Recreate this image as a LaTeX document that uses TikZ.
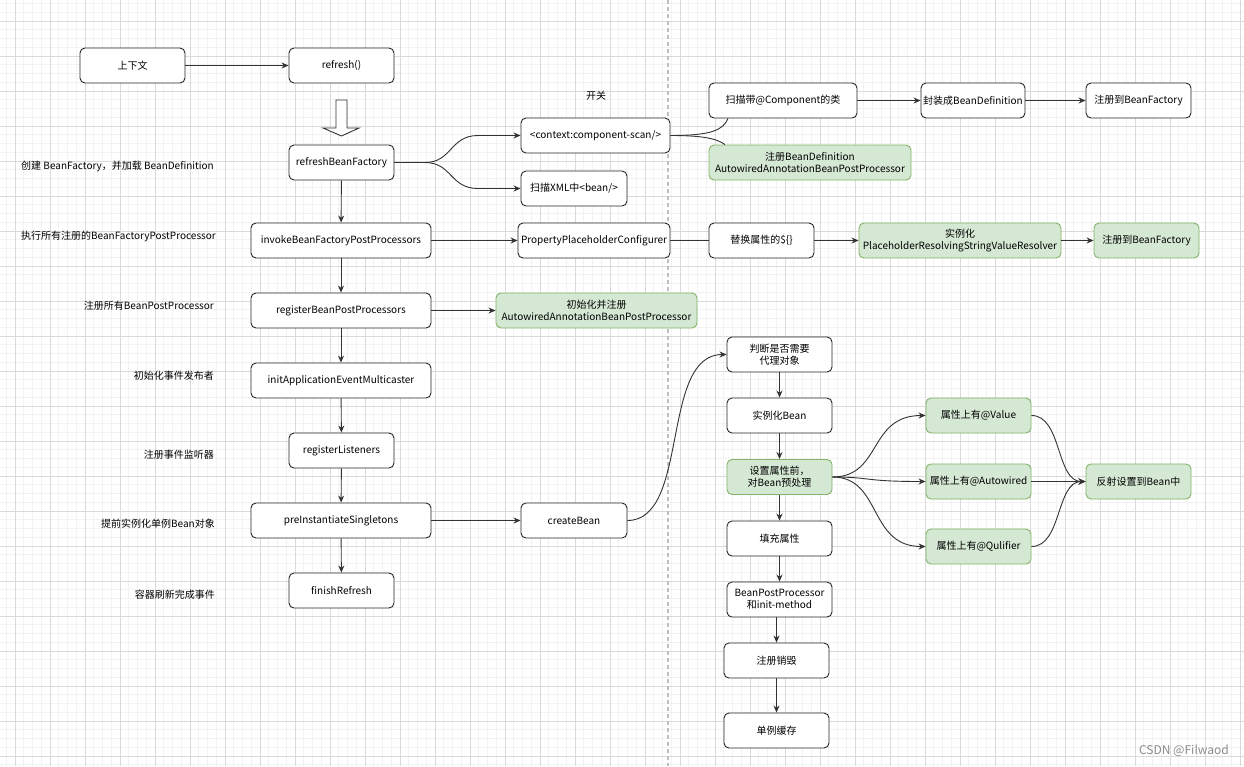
\documentclass[tikz,border=0pt]{standalone}
\usepackage{fontspec}
\setmainfont{Noto Sans CJK SC}
\usetikzlibrary{arrows.meta}
\definecolor{gfill}{HTML}{D5E8D4}
\definecolor{gdraw}{HTML}{82B366}
\definecolor{minorc}{HTML}{F2F2F2}
\definecolor{majorc}{HTML}{DADADA}
\begin{document}
\begin{tikzpicture}[x=1pt,y=-1pt,
  font=\fontsize{10}{12}\selectfont,
  box/.style={draw=black!85, line width=0.9pt, rounded corners=5pt, fill=white,
    minimum height=35pt, minimum width=#1, inner sep=1pt, align=center},
  box/.default=105pt,
  gbox/.style={box=#1, draw=gdraw, fill=gfill},
  gbox/.default=105pt,
  lbl/.style={anchor=east, inner sep=0pt},
  conn/.style={draw=black!80, line width=0.9pt, -{Stealth[length=7pt,width=6pt]}},
  plain/.style={draw=black!80, line width=0.9pt},
  minorgrid/.style={draw=minorc, line width=0.8pt},
  majorgrid/.style={draw=majorc, line width=0.8pt}]
\useasboundingbox (0,0) rectangle (1244,766);
\fill[white] (0,0) rectangle (1244,766);
% grid
\foreach \i in {0,...,141} {\draw[minorgrid] ({6.25+8.75*\i},0) -- ({6.25+8.75*\i},766);}
\foreach \j in {0,...,87} {\draw[minorgrid] (0,{3.5+8.75*\j}) -- (1244,{3.5+8.75*\j});}
\foreach \i in {0,...,35} {\draw[majorgrid] ({15+35*\i},0) -- ({15+35*\i},766);}
\foreach \j in {0,...,21} {\draw[majorgrid] (0,{21+35*\j}) -- (1244,{21+35*\j});}
% dashed separator
\draw[draw=black!25, line width=1.3pt, dash pattern=on 4pt off 3pt] (668,0) -- (668,766);

% left labels
\node[lbl] (l1) at (214,166) {创建 BeanFactory，并加载 BeanDefinition};
\node[lbl] (l2) at (216,236) {执行所有注册的BeanFactoryPostProcessor};
\node[lbl] (l3) at (214,306) {注册所有BeanPostProcessor};
\node[lbl] (l4) at (214,376) {初始化事件发布者};
\node[lbl] (l5) at (214,455) {注册事件监听器};
\node[lbl] (l6) at (215,524) {提前实例化单例Bean对象};
\node[lbl] (l7) at (215,595) {容器刷新完成事件};

% main column
\node[box] (ctx) at (132.5,65.5) {上下文};
\node[box] (refresh) at (341.5,65.5) {refresh()};
\node[box] (rbf) at (341.5,162.5) {refreshBeanFactory};
\node[box=180pt] (ibfpp) at (341,240.5) {invokeBeanFactoryPostProcessors};
\node[box=180pt] (rbpp) at (341,310.5) {registerBeanPostProcessors};
\node[box=180pt] (iaem) at (341,380.5) {initApplicationEventMulticaster};
\node[box] (rl) at (341.5,450.5) {registerListeners};
\node[box=180pt] (pis) at (341,520.5) {preInstantiateSingletons};
\node[box] (fr) at (341.5,590.5) {finishRefresh};

% hollow arrow
\draw[draw=black!80, line width=0.9pt, fill=white] (336,100) -- (347,100) -- (347,128) -- (359,128) -- (341.5,136) -- (323,128) -- (336,128) -- cycle;

% middle column
\node[inner sep=0pt] (kg) at (596,96) {开关};
\node[box=149pt] (cs) at (595.5,135.5) {<context:component-scan/>};
\node[box=106pt] (xml) at (574,188.5) {扫描XML中<bean/>};
\node[box=152pt] (ppc) at (594,240.5) {PropertyPlaceholderConfigurer};
\node[gbox=201pt] (aabpp) at (596.5,310.5) {初始化并注册\\AutowiredAnnotationBeanPostProcessor};
\node[box=106pt] (cb) at (574,520.5) {createBean};

% right top
\node[box=148pt] (scan) at (783,100.5) {扫描带@Component的类};
\node[box=104pt] (pack) at (973,100.5) {封装成BeanDefinition};
\node[box] (reg1) at (1138.5,100.5) {注册到BeanFactory};
\node[gbox=202pt] (regbd) at (810,162.5) {注册BeanDefinition\\AutowiredAnnotationBeanPostProcessor};
\node[box] (repl) at (761.5,240.5) {替换属性的\$\{\}};
\node[gbox=202pt] (inst) at (960,240.5) {实例化\\PlaceholderResolvingStringValueResolver};
\node[gbox] (reg2) at (1146.5,240.5) {注册到BeanFactory};

% right lower column
\node[box] (judge) at (779.5,354.5) {判断是否需要\\代理对象};
\node[box] (ib) at (779.5,415.5) {实例化Bean};
\node[gbox] (pre) at (779.5,477) {设置属性前，\\对Bean预处理};
\node[box] (fillp) at (779.5,538.5) {填充属性};
\node[box] (bpp) at (779.5,599.5) {BeanPostProcessor\\和init-method};
\node[box] (destroy) at (776.5,660.5) {注册销毁};
\node[box] (cache) at (776.5,730.5) {单例缓存};

\node[gbox] (val) at (978.5,415.5) {属性上有@Value};
\node[gbox] (aut) at (978.5,481.5) {属性上有@Autowired};
\node[gbox] (qul) at (978.5,546.5) {属性上有@Qulifier};
\node[gbox] (refl) at (1138.5,481.5) {反射设置到Bean中};

\node[text=black!45, font=\fontsize{12}{14}\selectfont, inner sep=0pt] (wm) at (1184,751) {CSDN @Filwaod};

% connectors
\draw[conn] (ctx) -- (refresh);
\draw[conn] (rbf) -- (ibfpp);
\draw[conn] (ibfpp) -- (rbpp);
\draw[conn] (rbpp) -- (iaem);
\draw[conn] (iaem) -- (rl);
\draw[conn] (rl) -- (pis);
\draw[conn] (pis) -- (fr);

\draw[conn] (rbf.east) -- (425,162.5) .. controls (452,162.5) and (450,135.5) .. (478,135.5) -- (cs.west);
\draw[conn] (rbf.east) -- (425,162.5) .. controls (452,162.5) and (450,188.5) .. (478,188.5) -- (xml.west);
\draw[conn] (ibfpp) -- (ppc);
\draw[conn] (rbpp) -- (aabpp);
\draw[conn] (pis) -- (cb);

\draw[plain] (cs.east) .. controls (712,135.5) and (723,130) .. (scan.south west -| 728,118);
\draw[plain] (cs.east) .. controls (700,135.5) and (716,138) .. (regbd.north west -| 725,145);
\draw[conn] (scan) -- (pack);
\draw[conn] (pack) -- (reg1);

\draw[plain] (ppc) -- (repl);
\draw[conn] (repl) -- (inst);
\draw[conn] (inst) -- (reg2);

\draw[conn] (cb.east) .. controls (690,520.5) and (660,354.5) .. (judge.west);
\draw[conn] (judge) -- (ib);
\draw[conn] (ib) -- (pre);
\draw[conn] (pre) -- (fillp);
\draw[conn] (fillp) -- (bpp);
\draw[conn] (bpp.south -| destroy.north) -- (destroy.north);
\draw[conn] (destroy) -- (cache);

\draw[conn] (pre.east) .. controls (882,477) and (868,415.5) .. (val.west);
\draw[conn] (pre.east) .. controls (872,477) and (862,481.5) .. (aut.west);
\draw[conn] (pre.east) .. controls (882,477) and (868,546.5) .. (qul.west);

\draw[conn] (val.east) .. controls (1062,415.5) and (1056,481.5) .. (refl.west);
\draw[conn] (aut.east) -- (refl.west);
\draw[conn] (qul.east) .. controls (1062,546.5) and (1056,481.5) .. (refl.west);
\end{tikzpicture}
\end{document}
